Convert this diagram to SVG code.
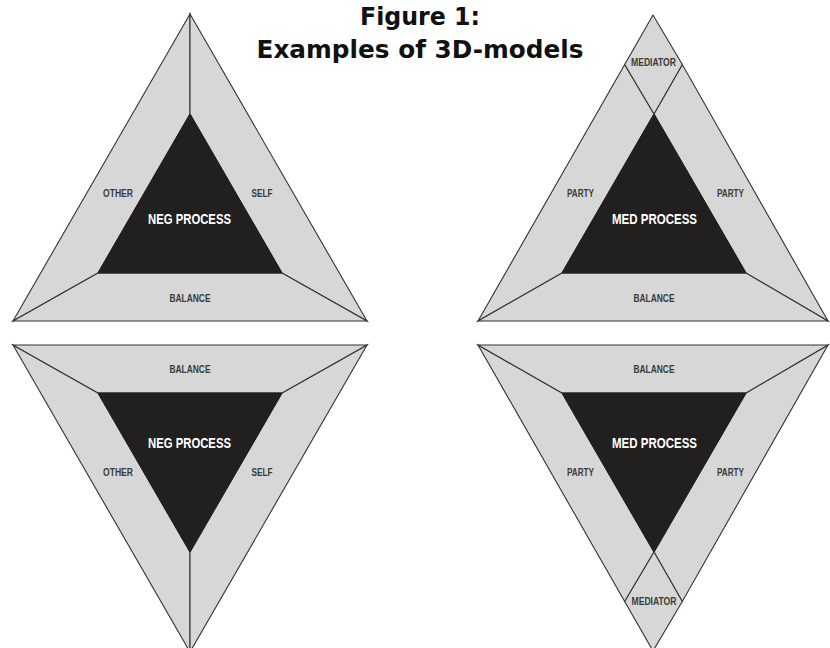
<svg xmlns="http://www.w3.org/2000/svg" width="830" height="648" viewBox="0 0 830 648">
<style>
.bg{fill:#ffffff}
.seg{fill:#d7d7d7;stroke:#333333;stroke-width:1.1;stroke-linejoin:miter}
.core{fill:#221f1f;stroke:#221f1f;stroke-width:1}
.lbl{font-family:"Liberation Sans",Arial,sans-serif;font-weight:bold;font-size:11px;fill:#3a3a3a;text-anchor:middle}
.core-lbl{font-family:"Liberation Sans",Arial,sans-serif;font-weight:bold;font-size:15px;fill:#ffffff;text-anchor:middle}
.title{font-family:"DejaVu Sans","Liberation Sans",sans-serif;font-weight:bold;font-size:25px;fill:#111111;text-anchor:middle}
</style>
<rect class="bg" x="0" y="0" width="830" height="648"/>

<!-- Top-left: NEG model -->
<g id="neg-top">
  <g id="neg-top-other"><polygon class="seg" points="190,14 190,114 98,273 13,321"/><text class="lbl" x="118" y="197" textLength="30" lengthAdjust="spacingAndGlyphs">OTHER</text></g>
  <g id="neg-top-self"><polygon class="seg" points="190,14 367,321 282,273 190,114"/><text class="lbl" x="262" y="197" textLength="21" lengthAdjust="spacingAndGlyphs">SELF</text></g>
  <g id="neg-top-balance"><polygon class="seg" points="13,321 98,273 282,273 367,321"/><text class="lbl" x="190" y="302" textLength="41" lengthAdjust="spacingAndGlyphs">BALANCE</text></g>
  <g id="neg-top-process"><polygon class="core" points="190,114 98,273 282,273"/><text class="core-lbl" x="189.5" y="224" textLength="83" lengthAdjust="spacingAndGlyphs">NEG PROCESS</text></g>
</g>

<!-- Top-right: MED model -->
<g id="med-top">
  <g id="med-top-party-left"><polygon class="seg" points="624.7,64.5 478,321 562,273 654,114"/><text class="lbl" x="580.5" y="197" textLength="27" lengthAdjust="spacingAndGlyphs">PARTY</text></g>
  <g id="med-top-party-right"><polygon class="seg" points="682.3,64.5 654,114 746,273 828,321"/><text class="lbl" x="730.5" y="197" textLength="27" lengthAdjust="spacingAndGlyphs">PARTY</text></g>
  <g id="med-top-mediator"><polygon class="seg" points="653,15 624.7,64.5 654,114 682.3,64.5"/><text class="lbl" x="653.5" y="66" textLength="45" lengthAdjust="spacingAndGlyphs">MEDIATOR</text></g>
  <g id="med-top-balance"><polygon class="seg" points="478,321 562,273 746,273 828,321"/><text class="lbl" x="654" y="302" textLength="41" lengthAdjust="spacingAndGlyphs">BALANCE</text></g>
  <g id="med-top-process"><polygon class="core" points="654,114 562,273 746,273"/><text class="core-lbl" x="654.5" y="224" textLength="85" lengthAdjust="spacingAndGlyphs">MED PROCESS</text></g>
</g>

<!-- Bottom-left: NEG model (inverted) -->
<g id="neg-bottom">
  <g id="neg-bottom-other"><polygon class="seg" points="190,652 190,552 98,393 13,345"/><text class="lbl" x="118" y="476" textLength="30" lengthAdjust="spacingAndGlyphs">OTHER</text></g>
  <g id="neg-bottom-self"><polygon class="seg" points="190,652 367,345 282,393 190,552"/><text class="lbl" x="262" y="476" textLength="21" lengthAdjust="spacingAndGlyphs">SELF</text></g>
  <g id="neg-bottom-balance"><polygon class="seg" points="13,345 98,393 282,393 367,345"/><text class="lbl" x="190" y="373" textLength="41" lengthAdjust="spacingAndGlyphs">BALANCE</text></g>
  <g id="neg-bottom-process"><polygon class="core" points="190,552 98,393 282,393"/><text class="core-lbl" x="189.5" y="447.5" textLength="83" lengthAdjust="spacingAndGlyphs">NEG PROCESS</text></g>
</g>

<!-- Bottom-right: MED model (inverted) -->
<g id="med-bottom">
  <g id="med-bottom-party-left"><polygon class="seg" points="624.7,601.5 478,345 562,393 654,552"/><text class="lbl" x="580.5" y="476" textLength="27" lengthAdjust="spacingAndGlyphs">PARTY</text></g>
  <g id="med-bottom-party-right"><polygon class="seg" points="682.3,601.5 654,552 746,393 828,345"/><text class="lbl" x="730.5" y="476" textLength="27" lengthAdjust="spacingAndGlyphs">PARTY</text></g>
  <g id="med-bottom-mediator"><polygon class="seg" points="653,651 624.7,601.5 654,552 682.3,601.5"/><text class="lbl" x="654" y="605" textLength="45" lengthAdjust="spacingAndGlyphs">MEDIATOR</text></g>
  <g id="med-bottom-balance"><polygon class="seg" points="478,345 562,393 746,393 828,345"/><text class="lbl" x="654" y="373" textLength="41" lengthAdjust="spacingAndGlyphs">BALANCE</text></g>
  <g id="med-bottom-process"><polygon class="core" points="654,552 562,393 746,393"/><text class="core-lbl" x="654.5" y="447.5" textLength="85" lengthAdjust="spacingAndGlyphs">MED PROCESS</text></g>
</g>

<g id="connectors"></g>

<g id="title">
  <text class="title" x="420" y="25" textLength="120" lengthAdjust="spacingAndGlyphs">Figure 1:</text>
  <text class="title" x="420" y="58" textLength="327" lengthAdjust="spacingAndGlyphs">Examples of 3D-models</text>
</g>
</svg>
